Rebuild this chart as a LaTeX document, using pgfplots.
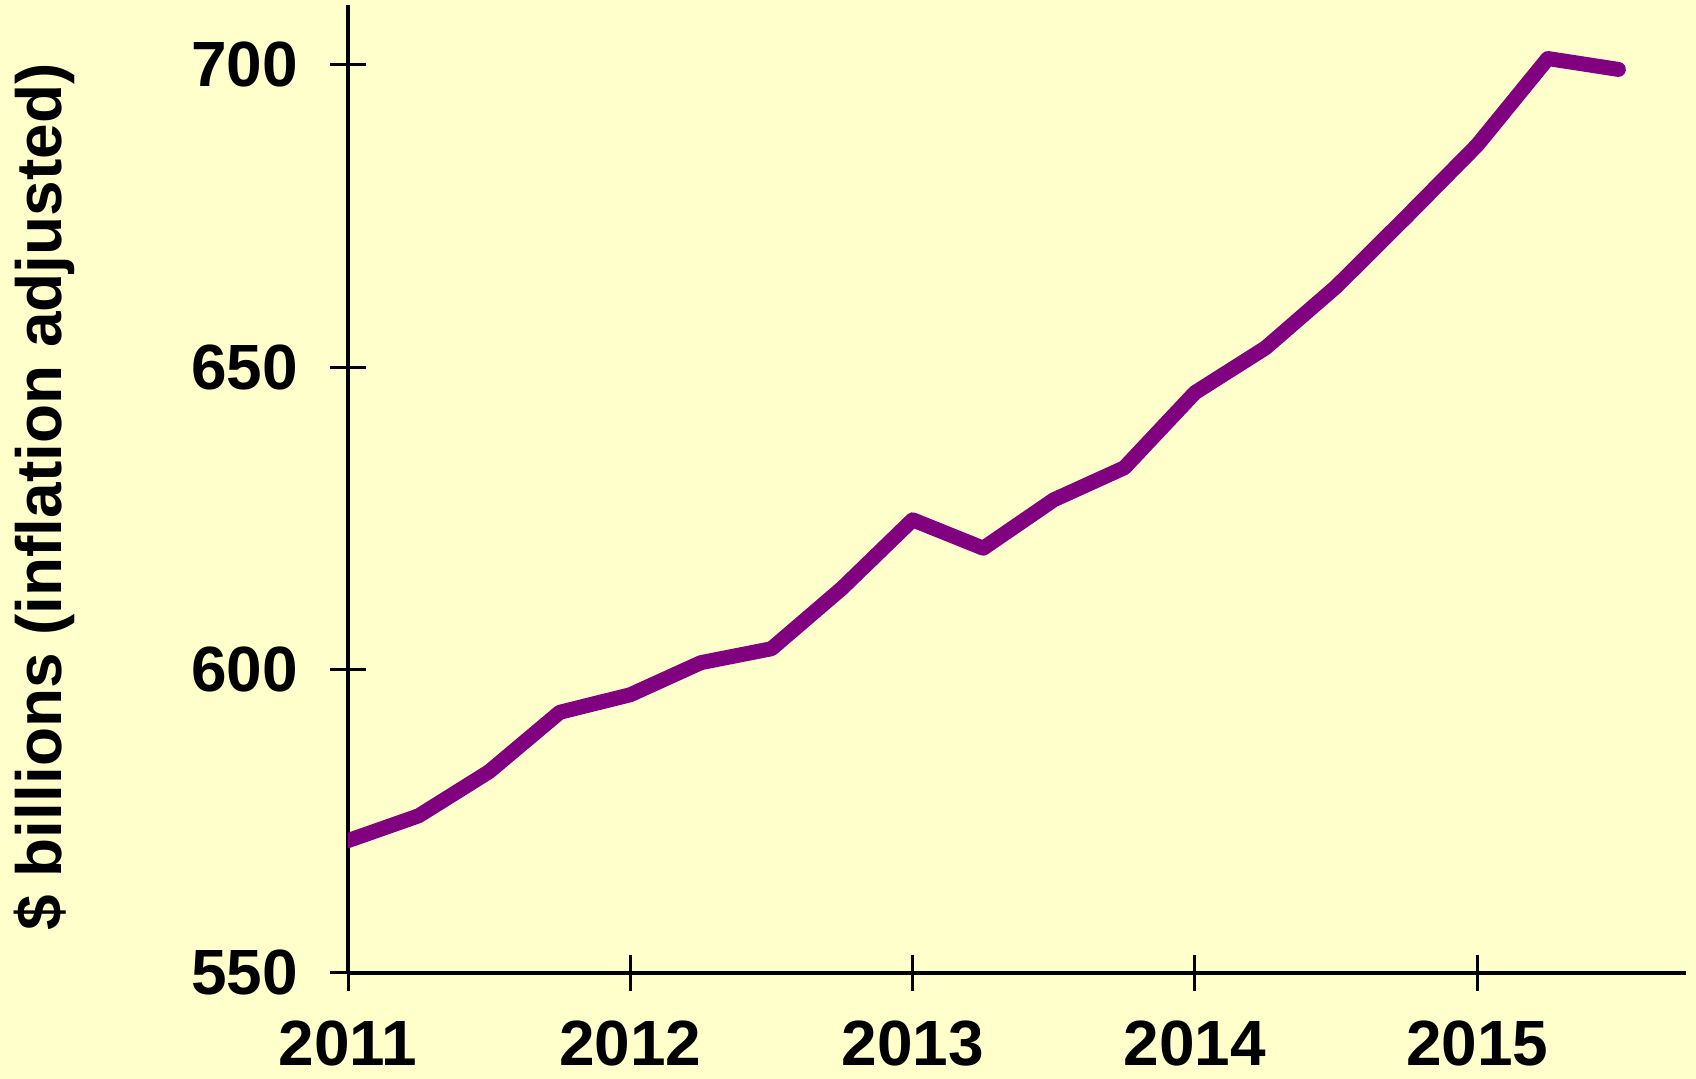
\documentclass[border=0pt]{standalone}
\usepackage{fontspec}
\setmainfont{Liberation Sans}
\usepackage{pgfplots}
\pgfplotsset{compat=1.18}
\usetikzlibrary{backgrounds}
\definecolor{bg}{HTML}{FFFFCC}
\definecolor{plum}{HTML}{800080}

\begin{document}
\begin{tikzpicture}
\begin{axis}[
    scale only axis, width=669.5pt, height=484pt,
    xmin=2011, xmax=2015.74, ymin=550, ymax=709.8,
    axis x line=bottom, axis y line=left,
    axis line style={-, line width=2pt, black},
    xtick={2011,2012,2013,2014,2015},
    ytick={550,600,650,700},
    major tick length=18pt, tick align=center,
    tick style={line width=1.5pt, black},
    /pgf/number format/assume math mode=true,
    /pgf/number format/1000 sep={},
    tick label style={font=\fontsize{32}{38}\selectfont\bfseries, inner sep=0pt},
    xticklabel style={anchor=north, yshift=-15pt},
    yticklabel style={anchor=east, xshift=-16pt},
    ylabel={\$ billions (inflation adjusted)},
    ylabel style={font=\fontsize{32}{38}\selectfont\bfseries,
        at={(axis description cs:-0.227,0.4917)}, anchor=center, inner sep=0pt},
]
\addplot[plum, line width=7.5pt, line join=round, line cap=round] coordinates {
    (2011.00,571.8) (2011.25,575.9) (2011.50,583.2) (2011.75,593.0)
    (2012.00,595.9) (2012.25,601.2) (2012.50,603.5) (2012.75,613.5)
    (2013.00,624.8) (2013.25,620.1) (2013.50,628.1) (2013.75,633.4)
    (2014.00,645.8) (2014.25,653.2) (2014.50,663.3) (2014.75,674.9)
    (2015.00,686.7) (2015.25,701.0) (2015.50,699.2)
};
\coordinate (sw) at (axis cs:2009.767,532.5);
\coordinate (ne) at (axis cs:2015.775,710.67);
\end{axis}
\pgfresetboundingbox
\begin{pgfonlayer}{background}
\fill[bg] (sw) rectangle (ne);
\end{pgfonlayer}
\end{tikzpicture}
\end{document}
